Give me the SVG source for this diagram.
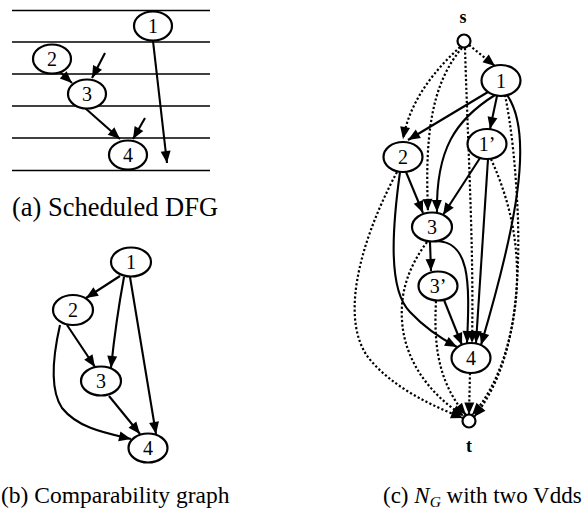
<svg xmlns="http://www.w3.org/2000/svg" width="587" height="521" viewBox="0 0 587 521">
  <style>
    .node ellipse, .node circle { fill: #fff; stroke: #000; stroke-width: 2.2; }
    .num { font-family: "Liberation Serif", "Times New Roman", serif; font-size: 20px; text-anchor: middle; fill: #000; }
    .lbl { font-family: "Liberation Serif", "Times New Roman", serif; font-size: 18px; font-weight: bold; text-anchor: middle; fill: #000; }
    .edge { fill: none; stroke: #000; stroke-width: 2.1; marker-end: url(#arrow); }
    .dot { fill: none; stroke: #000; stroke-width: 2.2; stroke-dasharray: 2.2 2.2; marker-end: url(#arrow); }
    .rule { stroke: #000; stroke-width: 1.6; }
  </style>
  <defs>
    <marker id="arrow" markerUnits="userSpaceOnUse" markerWidth="12" markerHeight="10" refX="12" refY="5" orient="auto" overflow="visible">
      <path d="M0,0 L12,5 L0,10 Z" fill="#000"/>
    </marker>
  </defs>

  <!-- (a) scheduled DFG: control steps -->
  <g id="steps">
    <line class="rule" x1="12" y1="10.5" x2="210" y2="10.5"/>
    <line class="rule" x1="12" y1="42" x2="210" y2="42"/>
    <line class="rule" x1="12" y1="74" x2="210" y2="74"/>
    <line class="rule" x1="12" y1="106" x2="210" y2="106"/>
    <line class="rule" x1="12" y1="138" x2="210" y2="138"/>
    <line class="rule" x1="12" y1="170.5" x2="210" y2="170.5"/>
  </g>

  <g id="connectors">
    <!-- (a) -->
    <path class="edge" d="M58,70 L72,83"/>
    <path class="edge" d="M105,53 L92,78"/>
    <path class="edge" d="M85,108 L120,139"/>
    <path class="edge" d="M145,118 L133,139"/>
    <path class="edge" d="M153,41 L167,163"/>

    <!-- (b) -->
    <path class="edge" d="M120,276 L86,298"/>
    <path class="edge" d="M124,277 Q116,320 111,368"/>
    <path class="edge" d="M130,277 L156,434"/>
    <path class="edge" d="M67,325 L95,367"/>
    <path class="edge" d="M60,325 C52,360 50,390 62,408 C78,428 105,433 131,439"/>
    <path class="edge" d="M109,396 L140,434"/>

    <!-- (c) solid edges -->
    <path class="edge" d="M488,92 L408,140"/>
    <path class="edge" d="M497,96 L490,129"/>
    <path class="edge" d="M495,95 C455,120 436,150 437,212"/>
    <path class="edge" d="M507,95 C535,135 515,230 481,345"/>
    <path class="edge" d="M480,158 L443,215"/>
    <path class="edge" d="M488,159 L476,343"/>
    <path class="edge" d="M406,172 L423,213"/>
    <path class="edge" d="M400,172 C392,230 388,290 410,312 C425,328 440,338 457,347"/>
    <path class="edge" d="M430,242 L431,271"/>
    <path class="edge" d="M434,241 C470,240 470,280 467,343"/>
    <path class="edge" d="M444,300 L462,345"/>

    <!-- (c) dotted edges from s -->
    <path class="dot" d="M469,45 L495,66"/>
    <path class="dot" d="M460,47 C435,70 410,100 403,139"/>
    <path class="dot" d="M462,48 C430,85 425,140 428,211"/>
    <path class="dot" d="M465,48 C468,150 474,250 472,343"/>

    <!-- (c) dotted edges to t -->
    <path class="dot" d="M397,172 C358,245 338,325 372,362 C395,388 430,405 463,418"/>
    <path class="dot" d="M427,242 C410,265 400,290 402,320 C404,360 430,395 464,416"/>
    <path class="dot" d="M436,301 C434,340 436,380 466,415"/>
    <path class="dot" d="M470,373 L469,414.5"/>
    <path class="dot" d="M491,159 C505,190 518,230 517,280 C516,330 500,385 472,415"/>
    <path class="dot" d="M505,95 C512,130 516,170 518,220 C520,300 512,370 474,417"/>
  </g>

  <!-- (a) nodes -->
  <g id="a1" class="node"><ellipse cx="153" cy="26" rx="19" ry="14.5"/><text class="num" x="153" y="33">1</text></g>
  <g id="a2" class="node"><ellipse cx="52" cy="59" rx="19" ry="14.5"/><text class="num" x="52" y="66">2</text></g>
  <g id="a3" class="node"><ellipse cx="87" cy="94" rx="19" ry="14.5"/><text class="num" x="87" y="101">3</text></g>
  <g id="a4" class="node"><ellipse cx="128" cy="155" rx="19" ry="14.5"/><text class="num" x="128" y="162">4</text></g>

  <!-- (b) nodes -->
  <g id="b1" class="node"><ellipse cx="131" cy="262" rx="20" ry="14.5"/><text class="num" x="131" y="269">1</text></g>
  <g id="b2" class="node"><ellipse cx="73" cy="310" rx="20" ry="15"/><text class="num" x="73" y="317">2</text></g>
  <g id="b3" class="node"><ellipse cx="101" cy="381" rx="20" ry="14.5"/><text class="num" x="101" y="388">3</text></g>
  <g id="b4" class="node"><ellipse cx="148" cy="448" rx="19.5" ry="14.5"/><text class="num" x="148" y="455">4</text></g>

  <!-- (c) nodes -->
  <g id="s" class="node"><circle cx="464" cy="41" r="6.5"/><text class="lbl" x="463" y="23">s</text></g>
  <g id="c1" class="node"><ellipse cx="501" cy="80.5" rx="19.5" ry="15.5"/><text class="num" x="501" y="87.5">1</text></g>
  <g id="c1p" class="node"><ellipse cx="487" cy="144" rx="19.5" ry="15"/><text class="num" x="487" y="151">1’</text></g>
  <g id="c2" class="node"><ellipse cx="403" cy="157" rx="19.5" ry="15"/><text class="num" x="403" y="164">2</text></g>
  <g id="c3" class="node"><ellipse cx="432" cy="227" rx="20" ry="14.5"/><text class="num" x="432" y="234">3</text></g>
  <g id="c3p" class="node"><ellipse cx="438" cy="286" rx="19.5" ry="14.5"/><text class="num" x="438" y="293">3’</text></g>
  <g id="c4" class="node"><ellipse cx="471" cy="358" rx="19.5" ry="15"/><text class="num" x="471" y="365">4</text></g>
  <g id="t" class="node"><circle cx="469" cy="421" r="6.5"/><text class="lbl" x="469" y="451.5">t</text></g>

  <!-- captions -->
  <text x="12" y="216" font-family="'Liberation Serif', 'Times New Roman', serif" font-size="26.5" fill="#000">(a) Scheduled DFG</text>
  <text x="1" y="503" font-family="'Liberation Serif', 'Times New Roman', serif" font-size="23.5" fill="#000">(b) Comparability graph</text>
  <text x="383" y="503" font-family="'Liberation Serif', 'Times New Roman', serif" font-size="23" fill="#000">(c) <tspan font-style="italic">N</tspan><tspan font-style="italic" font-size="15.5" dy="4">G</tspan><tspan dy="-4"> with two Vdds</tspan></text>
</svg>
